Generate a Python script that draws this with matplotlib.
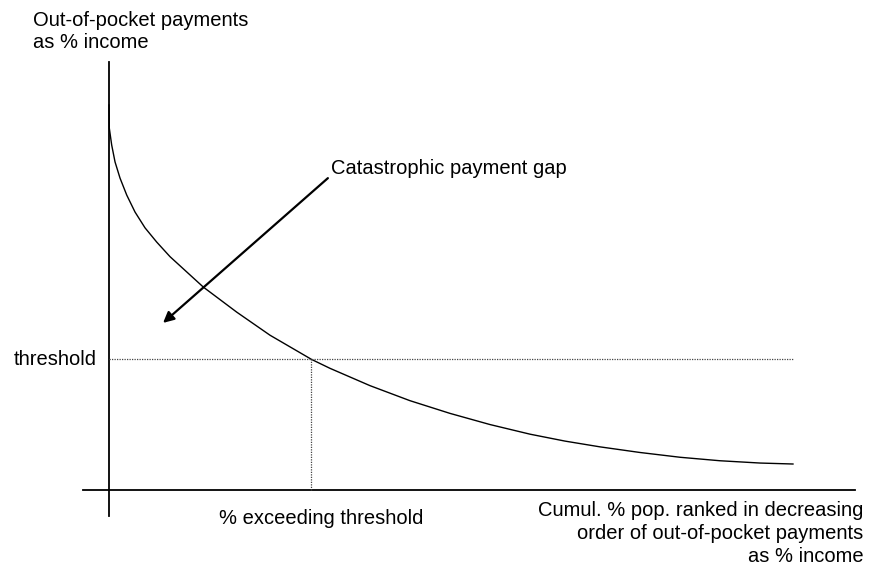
import numpy as np
from matplotlib import pyplot as plt

plt.rcParams['font.family'] = ['Liberation Sans', 'DejaVu Sans']

# curve: cumul. % population vs payments as % income
pop_pct = [0, 0.04, 0.39, 0.88, 1.61, 2.59, 3.80, 5.26, 6.97, 8.92, 13.79, 18.67, 23.54,
           29.63, 32.31, 38.16, 44.0, 49.85, 55.7, 61.55, 66.67, 71.8, 77.6, 83.5, 89.3, 95.2, 100]
pay_pct = [100, 94.0, 89.6, 85.2, 81.0, 76.6, 72.2, 68.1, 64.4, 60.6, 52.7, 46.2, 40.2,
           33.9, 31.6, 27.1, 23.2, 19.9, 17.0, 14.5, 12.7, 11.2, 9.75, 8.5, 7.6, 7.0, 6.75]
threshold = 33.9
exceed = 29.6

fig = plt.figure(figsize=(8.73, 5.68), dpi=100)
ax = fig.add_axes([0, 0, 1, 1])
# map data units onto the page
ax.set_xlim(-15.94, 111.70)
ax.set_ylim(-20.26, 127.27)
ax.axis('off')

# axes drawn by hand
ax.plot([-3.8, 109.1], [0, 0], color='black', lw=1.3)
ax.plot([0, 0], [-6.75, 111.2], color='black', lw=1.3)

ax.plot(pop_pct, pay_pct, color='black', lw=1.0, solid_joinstyle='round')

ax.plot([0, 100], [threshold, threshold], color='#444444', lw=0.9, ls=(0, (1, 1)))
ax.plot([exceed, exceed], [0, threshold], color='#444444', lw=0.9, ls=(0, (1, 1)))

ax.annotate('', xy=(7.9, 43.4), xytext=(32.0, 81.0),
            arrowprops=dict(arrowstyle='-|>', color='black', lw=1.6,
                            mutation_scale=16, shrinkA=0, shrinkB=0))

fs = 14.5
ax.text(32.4, 83.6, 'Catastrophic payment gap', fontsize=fs, va='center', ha='left')
ax.text(-1.8, threshold, 'threshold', fontsize=fs, va='center', ha='right')
ax.text(31.0, -7.5, '% exceeding threshold', fontsize=fs, va='center', ha='center')
ax.text(-11.1, 119.2, 'Out-of-pocket payments\nas % income', fontsize=fs,
        va='center', ha='left', linespacing=1.2)
ax.text(110.3, -11.4, 'Cumul. % pop. ranked in decreasing\norder of out-of-pocket payments\nas % income',
        fontsize=fs, va='center', ha='right', linespacing=1.26)

fig.savefig('out.png', dpi=100, facecolor='white')
